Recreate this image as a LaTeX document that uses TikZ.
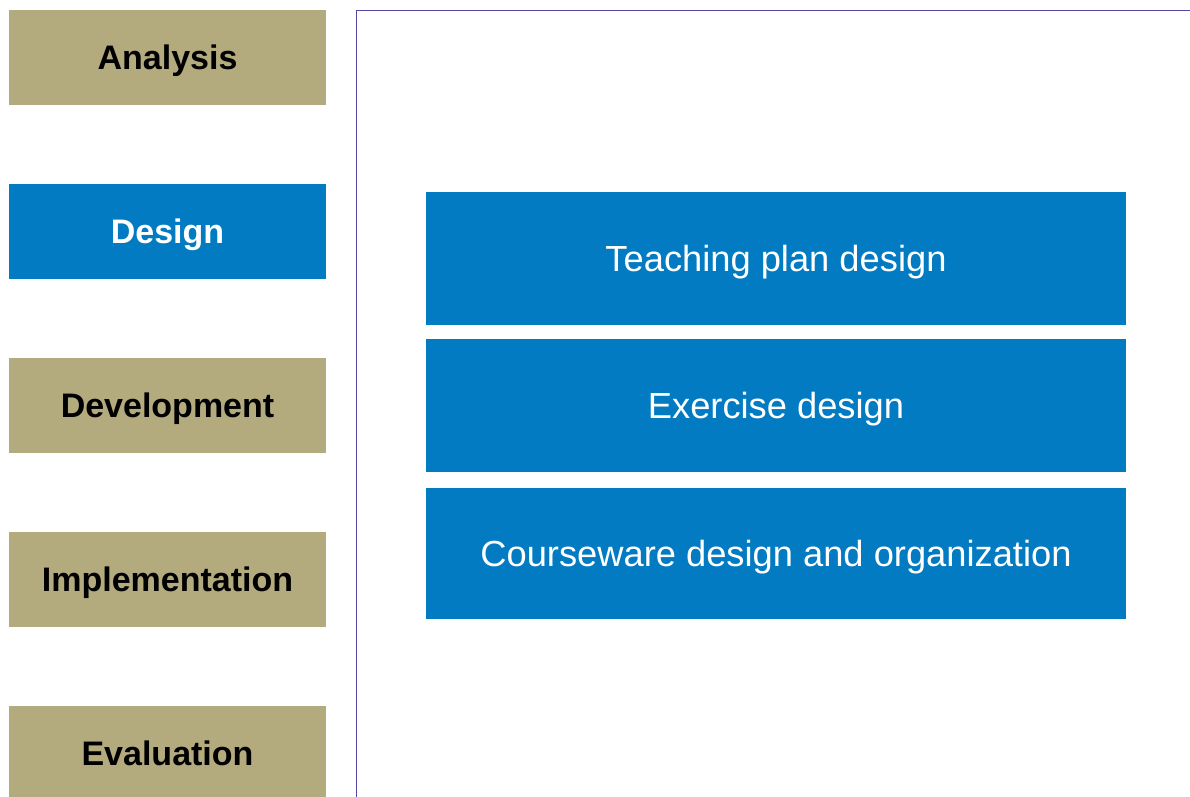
\documentclass[tikz,border=0pt]{standalone}
\usepackage{fontspec}
\setmainfont{Liberation Sans}
\definecolor{tan}{HTML}{B3AA7E}
\definecolor{adblue}{HTML}{027BC2}
\definecolor{panelline}{HTML}{5547A8}
\begin{document}
\begin{tikzpicture}[x=1pt,y=1pt,
  phase/.style={fill=tan, draw=none, minimum width=317pt, minimum height=95pt, inner sep=0pt,
    font=\fontsize{34}{40}\selectfont\bfseries, text=black, text height=24.3pt, text depth=0pt},
  phaseon/.style={phase, fill=adblue, text=white},
  task/.style={fill=adblue, draw=none, minimum width=700pt, minimum height=132pt, inner sep=0pt,
    font=\fontsize{36.3}{42}\selectfont, text=white, text height=26pt, text depth=0pt}]
\useasboundingbox (0,0) rectangle (1190,796);
\fill[white] (0,0) rectangle (1190,796);
\draw[panelline, line width=1.6pt] (356.5,-5) -- (356.5,785.5) -- (1195,785.5);
\node[phase]   (ana) at (167.5,796-57.5)  {Analysis};
\node[phaseon] (des) at (167.5,796-231.5) {Design};
\node[phase]   (dev) at (167.5,796-405.5) {Development};
\node[phase]   (imp) at (167.5,796-579.5) {Implementation};
\node[phase]   (eva) at (167.5,796-753.5) {Evaluation};
\node[task, minimum height=133pt] (t1) at (776,796-258.5) {Teaching plan design};
\node[task, minimum height=133pt] (t2) at (776,796-405.5) {Exercise design};
\node[task, minimum height=131pt] (t3) at (776,796-553.5) {Courseware design and organization};
\end{tikzpicture}
\end{document}
